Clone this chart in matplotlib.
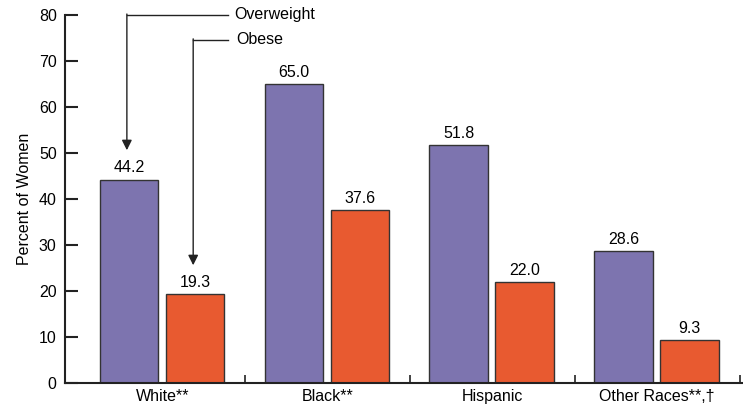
import matplotlib.pyplot as plt
import numpy as np

plt.rcParams['font.family'] = ['Liberation Sans', 'DejaVu Sans']

groups = ["White**", "Black**", "Hispanic", "Other Races**,\u2020"]
overweight = [44.2, 65.0, 51.8, 28.6]
obese = [19.3, 37.6, 22.0, 9.3]

purple = "#7D74AF"
orange = "#E85A30"
fs = 11.5

fig = plt.figure(figsize=(7.43, 4.05), dpi=100)
ax = fig.add_axes([0.0875, 0.0543, 0.9125, 0.9088])

x = np.arange(len(groups))
w = 0.355
ax.bar(x + 0.297, overweight, w, color=purple, edgecolor="#333333", linewidth=1.0)
ax.bar(x + 0.697, obese, w, color=orange, edgecolor="#333333", linewidth=1.0)

for xi, v in zip(x, overweight):
    ax.annotate(f"{v:.1f}", (xi + 0.297, v), xytext=(0, 3), textcoords="offset points",
                ha="center", va="bottom", fontsize=fs)
for xi, v in zip(x, obese):
    ax.annotate(f"{v:.1f}", (xi + 0.697, v), xytext=(0, 3), textcoords="offset points",
                ha="center", va="bottom", fontsize=fs)

ax.set_xlim(-0.09, 4.02)
ax.set_ylim(0, 80)

# leader arrows
ax.plot([0.285, 0.90], [80, 80], color="#222222", lw=1.0, clip_on=False)
ax.annotate("", xy=(0.285, 50.6), xytext=(0.285, 80.2),
            arrowprops=dict(arrowstyle="-|>", color="#222222", lw=1.0,
                            mutation_scale=15, shrinkA=0, shrinkB=0))
ax.plot([0.687, 0.90], [74.6, 74.6], color="#222222", lw=1.0, clip_on=False)
ax.annotate("", xy=(0.687, 25.6), xytext=(0.687, 74.8),
            arrowprops=dict(arrowstyle="-|>", color="#222222", lw=1.0,
                            mutation_scale=15, shrinkA=0, shrinkB=0))
ax.text(0.935, 80, "Overweight", ha="left", va="center", fontsize=fs)
ax.text(0.95, 74.6, "Obese", ha="left", va="center", fontsize=fs)

ax.spines["top"].set_visible(False)
ax.spines["right"].set_visible(False)
for s in ["left", "bottom"]:
    ax.spines[s].set_linewidth(1.5)
    ax.spines[s].set_color("#222222")

ax.set_yticks(np.arange(0, 81, 10))
ax.tick_params(axis="y", direction="in", length=9, width=1.5, pad=6,
               labelsize=fs, color="#222222")
ax.set_xticks(x + 0.5)
ax.set_xticklabels(groups)
ax.tick_params(axis="x", which="major", length=0, pad=4, labelsize=fs)
ax.set_xticks([1, 2, 3, 4], minor=True)
ax.tick_params(axis="x", which="minor", direction="in", length=6, width=1.2,
               color="#222222")

ax.set_ylabel("Percent of Women", fontsize=11.5)
ax.yaxis.set_label_coords(-0.048, 0.5)

fig.savefig("out.png", dpi=100)
